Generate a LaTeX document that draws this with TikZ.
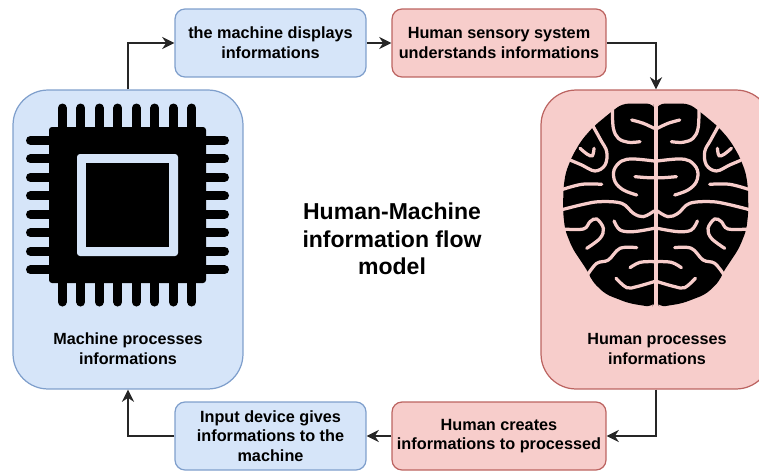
\documentclass[tikz,border=0pt]{standalone}
\usepackage{fontspec}
\setmainfont{Liberation Sans}
\usetikzlibrary{arrows.meta}
\definecolor{machineFill}{HTML}{D6E5F9}
\definecolor{machineLine}{HTML}{7F9FCC}
\definecolor{humanFill}{HTML}{F7CDCB}
\definecolor{humanLine}{HTML}{BC6461}

\begin{document}
\begin{tikzpicture}[x=0.02cm, y=-0.02cm]
    \tikzstyle{machine} = [draw=machineLine, fill=machineFill, line width=0.7pt, align=center, inner sep=0pt]
    \tikzstyle{human} = [draw=humanLine, fill=humanFill, line width=0.7pt, align=center, inner sep=0pt]
    \tikzstyle{small box} = [minimum height=1.36cm, rounded corners=0.2cm, font=\fontsize{9.25}{11.2}\selectfont\bfseries]
    \tikzstyle{big box} = [minimum width=4.6cm, minimum height=5.98cm, rounded corners=0.7cm]
    \tikzstyle{caption} = [align=center, inner sep=0pt, font=\fontsize{9.2}{11.4}\selectfont\bfseries]
    \tikzstyle{flow} = [-{Stealth[length=7pt, width=7pt]}, line width=0.7pt, draw=black!85]
    \tikzstyle{pin} = [line width=0.18cm, line cap=round]

    \useasboundingbox (0, 0) rectangle (759, 470);
    \clip (0, 0) rectangle (759, 470);

    \node[machine, big box] (machine) at (128, 239.5) {};
    \node[human, big box] (brain) at (656, 239.5) {};
    \node[machine, small box, minimum width=3.82cm] (display) at (270.5, 43) {the machine displays\\informations};
    \node[human, small box, minimum width=4.28cm] (sensory) at (499, 43) {Human sensory system\\understands informations};
    \node[human, small box, minimum width=4.28cm] (creates) at (499, 436) {Human creates\\informations to processed};
    \node[machine, small box, minimum width=3.82cm] (input) at (270.5, 436) {Input device gives\\informations to the\\machine};

    \node[caption] (machine text) at (128, 349) {Machine processes\\informations};
    \node[caption] (brain text) at (657, 349) {Human processes\\informations};
    \node[align=center, inner sep=0pt, font=\fontsize{13.1}{15.6}\selectfont\bfseries] (title) at (392, 239) {Human-Machine\\information flow\\model};

    \draw[flow] (machine.north) |- (display.west);
    \draw[flow] (display.east) -- (sensory.west);
    \draw[flow] (sensory.east) -| (brain.north);
    \draw[flow] (brain.south) |- (creates.east);
    \draw[flow] (creates.west) -- (input.east);
    \draw[flow] (input.west) -| (machine.south);

    \foreach \i in {0, ..., 7} {
        \draw[pin] ({62.3 + 18.5 * \i}, 108) -- ({62.3 + 18.5 * \i}, 130);
        \draw[pin] ({62.3 + 18.5 * \i}, 302) -- ({62.3 + 18.5 * \i}, 280);
        \draw[pin] (30.5, {140.3 + 18.5 * \i}) -- (52, {140.3 + 18.5 * \i});
        \draw[pin] (224.5, {140.3 + 18.5 * \i}) -- (203, {140.3 + 18.5 * \i});
    }
    \fill[black, rounded corners=0.06cm] (49, 127) rectangle (206, 283);
    \fill[machineFill, rounded corners=0.06cm] (77, 154) rectangle (178, 256);
    \fill[black] (86, 163) rectangle (169, 247);

    \foreach \s in {-1, 1} {
        \begin{scope}[shift={(655.7, 85)}, xscale=\s * 0.3333, yscale=0.3333]
            \fill[black, rounded corners=0.12cm] (0, 75) -- (8, 56) -- (100, 56) -- (135, 82) -- (187, 125) -- (222, 165) -- (250, 212) -- (270, 262) -- (277, 310) -- (278, 380) -- (272, 435) -- (250, 490) -- (202, 562) -- (190, 590) -- (150, 628) -- (80, 655) -- (12, 666) -- (0, 650) -- cycle;
            \begin{scope}[draw=humanFill, line width=0.065cm, line cap=round]
                \draw plot[smooth, tension=0.6] coordinates {(130, 75) (127, 130) (112, 160) (82, 172) (47, 170)};
                \draw plot[smooth, tension=0.6] coordinates {(190, 120) (165, 165) (147, 200) (152, 240) (182, 258) (222, 240) (255, 226)};
                \draw plot[smooth, tension=0.6] coordinates {(227, 190) (205, 208) (190, 212) (185, 190)};
                \draw plot[smooth, tension=0.6] coordinates {(72, 105) (37, 115) (5, 130)};
                \draw plot[smooth, tension=0.6] coordinates {(5, 228) (67, 222) (102, 228) (125, 255) (122, 290) (97, 315) (57, 330)};
                \draw plot[smooth, tension=0.6] coordinates {(62, 275) (25, 278) (0, 278)};
                \draw plot[smooth, tension=0.6] coordinates {(285, 315) (222, 298) (162, 298)};
                \draw plot[smooth, tension=0.6] coordinates {(285, 375) (217, 358) (167, 350) (102, 355) (67, 385) (37, 395) (5, 378)};
                \draw plot[smooth, tension=0.6] coordinates {(280, 432) (217, 432) (197, 410) (177, 402) (157, 430) (167, 460) (207, 490)};
                \draw plot[smooth, tension=0.6] coordinates {(125, 408) (107, 435) (67, 440) (5, 430)};
                \draw plot[smooth, tension=0.6] coordinates {(205, 570) (177, 535) (142, 525) (107, 490) (57, 488)};
                \draw plot[smooth, tension=0.6] coordinates {(77, 548) (47, 532) (5, 530)};
                \draw plot[smooth, tension=0.6] coordinates {(119, 580) (87, 608) (57, 605) (5, 590)};
            \end{scope}
            \fill[humanFill] (-6, 50) rectangle (6, 670);
        \end{scope}
    }
\end{tikzpicture}
\end{document}
